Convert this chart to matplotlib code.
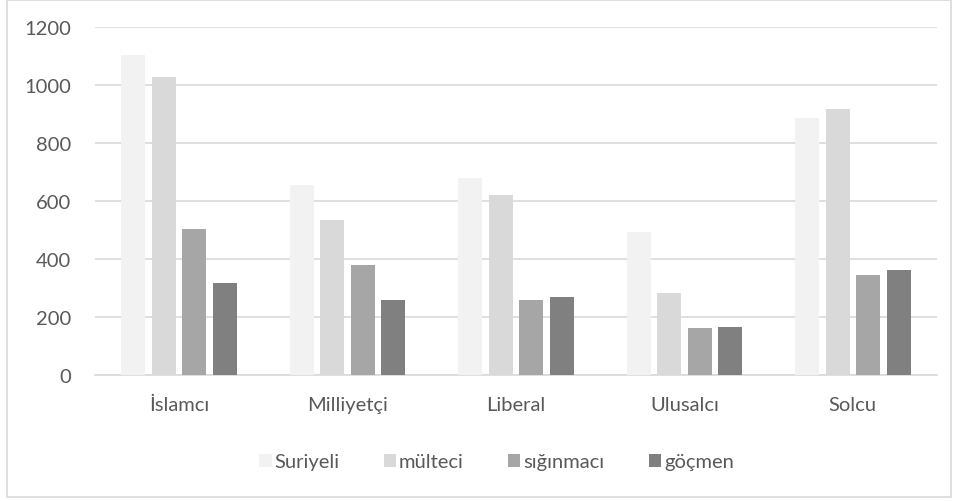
import numpy as np
import matplotlib.pyplot as plt
from matplotlib.patches import Rectangle

# veriler
kategoriler = ['İslamcı', 'Milliyetçi', 'Liberal', 'Ulusalcı', 'Solcu']
seriler = ['Suriyeli', 'mülteci', 'sığınmacı', 'göçmen']
suriyeli = [1104, 656, 680, 494, 887]
multeci = [1026, 535, 620, 284, 918]
siginmaci = [504, 380, 260, 162, 345]
gocmen = [316, 259, 269, 164, 361]
renkler = ['#F2F2F2', '#D9D9D9', '#A6A6A6', '#808080']

plt.rcParams['font.family'] = ['Lato', 'DejaVu Sans']
metin = '#595959'

fig = plt.figure(figsize=(9.58, 5.02), dpi=100)
ax = fig.add_axes([95 / 958, 1 - 376 / 502, (937 - 95) / 958, (376 - 28) / 502])

x = np.arange(len(kategoriler))
genislik = 0.1425
adim = 0.181
for i, (veri, renk, ad) in enumerate(zip([suriyeli, multeci, siginmaci, gocmen], renkler, seriler)):
    ax.bar(x + (i - 1.5) * adim, veri, width=genislik, color=renk, label=ad, zorder=3)

ax.set_xlim(-0.5, len(kategoriler) - 0.5)
ax.set_ylim(0, 1200)
ax.set_yticks(range(0, 1201, 200))
ax.set_xticks(x)
ax.set_xticklabels(kategoriler)
ax.grid(axis='y', color='#D9D9D9', lw=1.2, zorder=0)
for s in ['top', 'right', 'left']:
    ax.spines[s].set_visible(False)
ax.spines['bottom'].set_color('#D9D9D9')
ax.spines['bottom'].set_linewidth(1.2)
ax.tick_params(length=0, labelsize=14.5, colors=metin)
ax.tick_params(axis='x', pad=15)
ax.tick_params(axis='y', pad=17)

leg = ax.legend(loc='center', bbox_to_anchor=(0.477, -0.25), ncol=4, frameon=False,
                fontsize=14.5, handlelength=0.6, handleheight=0.6, handletextpad=0.15,
                columnspacing=2.2, labelcolor=metin)

# dış çerçeve
fig.patches.append(Rectangle((7 / 958, 4 / 502), 944 / 958, 497 / 502, transform=fig.transFigure,
                             fill=False, edgecolor='#D9D9D9', lw=1.2))

fig.savefig('out.png', dpi=100)
